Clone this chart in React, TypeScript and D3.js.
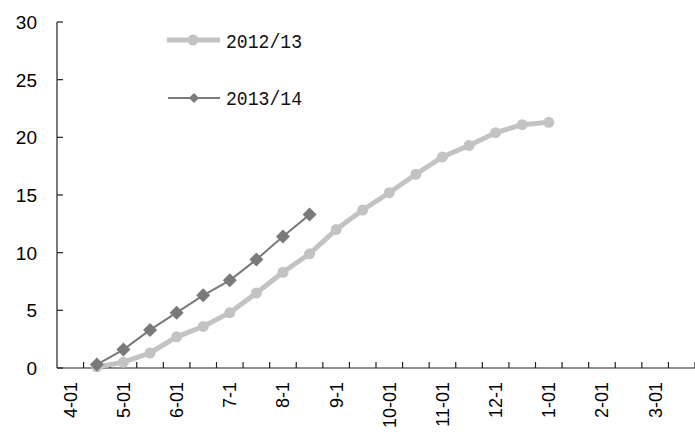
import React, { useEffect, useRef } from "react";
import * as d3 from "d3";

// half-month categories, label only on every other one
const categories = [
  "4-01", "4-16", "5-01", "5-16", "6-01", "6-16", "7-1", "7-16",
  "8-1", "8-16", "9-1", "9-16", "10-01", "10-16", "11-01", "11-16",
  "12-1", "12-16", "1-01", "1-16", "2-01", "2-16", "3-01", "3-16"
];
const shownLabels = ["4-01", "5-01", "6-01", "7-1", "8-1", "9-1", "10-01", "11-01", "12-1", "1-01", "2-01", "3-01"];

const series1Name = "2012/13";
const series1 = [0.1, 0.5, 1.3, 2.7, 3.6, 4.8, 6.5, 8.3, 9.9, 12.0, 13.7, 15.2, 16.8, 18.3, 19.3, 20.4, 21.1, 21.3];
const series1Start = 1;

const series2Name = "2013/14";
const series2 = [0.3, 1.6, 3.3, 4.8, 6.3, 7.6, 9.4, 11.4, 13.3];
const series2Start = 1;

const yTicks = [0, 5, 10, 15, 20, 25, 30];

const W = 695;
const H = 434;

const drawChart = (el: SVGSVGElement) => {
  const svg = d3.select(el);
  svg.selectAll("*").remove();

  const x = d3.scaleBand().domain(categories).range([57, 695]);
  const y = d3.scaleLinear().domain([0, 30]).range([368, 22]);
  const cx = (i: number) => (x(categories[i]) as number) + x.bandwidth() / 2;

  // axes
  svg.append("line").attr("x1", 57).attr("x2", 57).attr("y1", y(30)).attr("y2", y(0))
    .attr("stroke", "#222").attr("stroke-width", 1.2);
  svg.append("line").attr("x1", 57).attr("x2", 695).attr("y1", y(0)).attr("y2", y(0))
    .attr("stroke", "#222").attr("stroke-width", 1.2);

  svg.selectAll(".ytick").data(yTicks).enter().append("line")
    .attr("x1", 57).attr("x2", 63).attr("y1", d => y(d)).attr("y2", d => y(d))
    .attr("stroke", "#222").attr("stroke-width", 1.2);

  svg.selectAll(".ylab").data(yTicks).enter().append("text")
    .attr("x", 37).attr("y", d => y(d)).attr("dy", "0.36em")
    .attr("text-anchor", "end")
    .style("font-family", "'Liberation Sans', Arial, sans-serif")
    .style("font-size", "19px").attr("fill", "#000")
    .text(d => d);

  // x ticks at band boundaries, pointing up
  svg.selectAll(".xtick").data(categories).enter().append("line")
    .attr("x1", d => (x(d) as number) + x.bandwidth()).attr("x2", d => (x(d) as number) + x.bandwidth())
    .attr("y1", y(0)).attr("y2", y(0) - 6)
    .attr("stroke", "#222").attr("stroke-width", 1.2);

  svg.selectAll(".xlab").data(categories.filter(c => shownLabels.includes(c))).enter().append("text")
    .attr("transform", d => `translate(${(x(d) as number) + x.bandwidth() / 2}, 382) rotate(-90)`)
    .attr("dy", "0.36em")
    .attr("text-anchor", "end")
    .style("font-family", "'Liberation Sans', Arial, sans-serif")
    .style("font-size", "18px").attr("fill", "#000")
    .text(d => d);

  // 2012/13
  const line = d3.line<[number, number]>().x(d => d[0]).y(d => d[1]);
  const pts1: [number, number][] = series1.map((v, i) => [cx(i + series1Start), y(v)]);
  svg.append("path").attr("d", line(pts1)).attr("fill", "none")
    .attr("stroke", "#c3c3c3").attr("stroke-width", 5).attr("stroke-linejoin", "round");
  svg.selectAll(".c1").data(pts1).enter().append("circle")
    .attr("cx", d => d[0]).attr("cy", d => d[1]).attr("r", 5.5).attr("fill", "#c3c3c3");

  // 2013/14
  const pts2: [number, number][] = series2.map((v, i) => [cx(i + series2Start), y(v)]);
  svg.append("path").attr("d", line(pts2)).attr("fill", "none")
    .attr("stroke", "#7a7a7a").attr("stroke-width", 2);
  const diamond = (px: number, py: number, s: number) =>
    `M${px},${py - s}L${px + s},${py}L${px},${py + s}L${px - s},${py}Z`;
  svg.selectAll(".d2").data(pts2).enter().append("path")
    .attr("d", d => diamond(d[0], d[1], 7)).attr("fill", "#7a7a7a");

  // legend
  const leg = svg.append("g");
  leg.append("line").attr("x1", 167).attr("x2", 220).attr("y1", 40).attr("y2", 40)
    .attr("stroke", "#c3c3c3").attr("stroke-width", 5);
  leg.append("circle").attr("cx", 193).attr("cy", 40).attr("r", 5.5).attr("fill", "#c3c3c3");
  leg.append("text").attr("x", 226).attr("y", 48)
    .attr("textLength", 76).attr("lengthAdjust", "spacingAndGlyphs")
    .style("font-family", "'Liberation Mono', monospace").style("font-size", "21px")
    .attr("fill", "#111").text(series1Name);

  leg.append("line").attr("x1", 168).attr("x2", 220).attr("y1", 98).attr("y2", 98)
    .attr("stroke", "#7a7a7a").attr("stroke-width", 2);
  leg.append("path").attr("d", diamond(194, 98, 5)).attr("fill", "#7a7a7a");
  leg.append("text").attr("x", 226).attr("y", 105)
    .attr("textLength", 76).attr("lengthAdjust", "spacingAndGlyphs")
    .style("font-family", "'Liberation Mono', monospace").style("font-size", "21px")
    .attr("fill", "#111").text(series2Name);
};

function App() {
  const ref = useRef<SVGSVGElement>(null);
  useEffect(() => {
    if (ref.current) drawChart(ref.current);
  }, []);

  return (
    <svg
      ref={ref}
      width={W}
      height={H}
      style={{ position: "absolute", left: 0, top: 0, background: "#fff" }}
    />
  );
}

export default App;
